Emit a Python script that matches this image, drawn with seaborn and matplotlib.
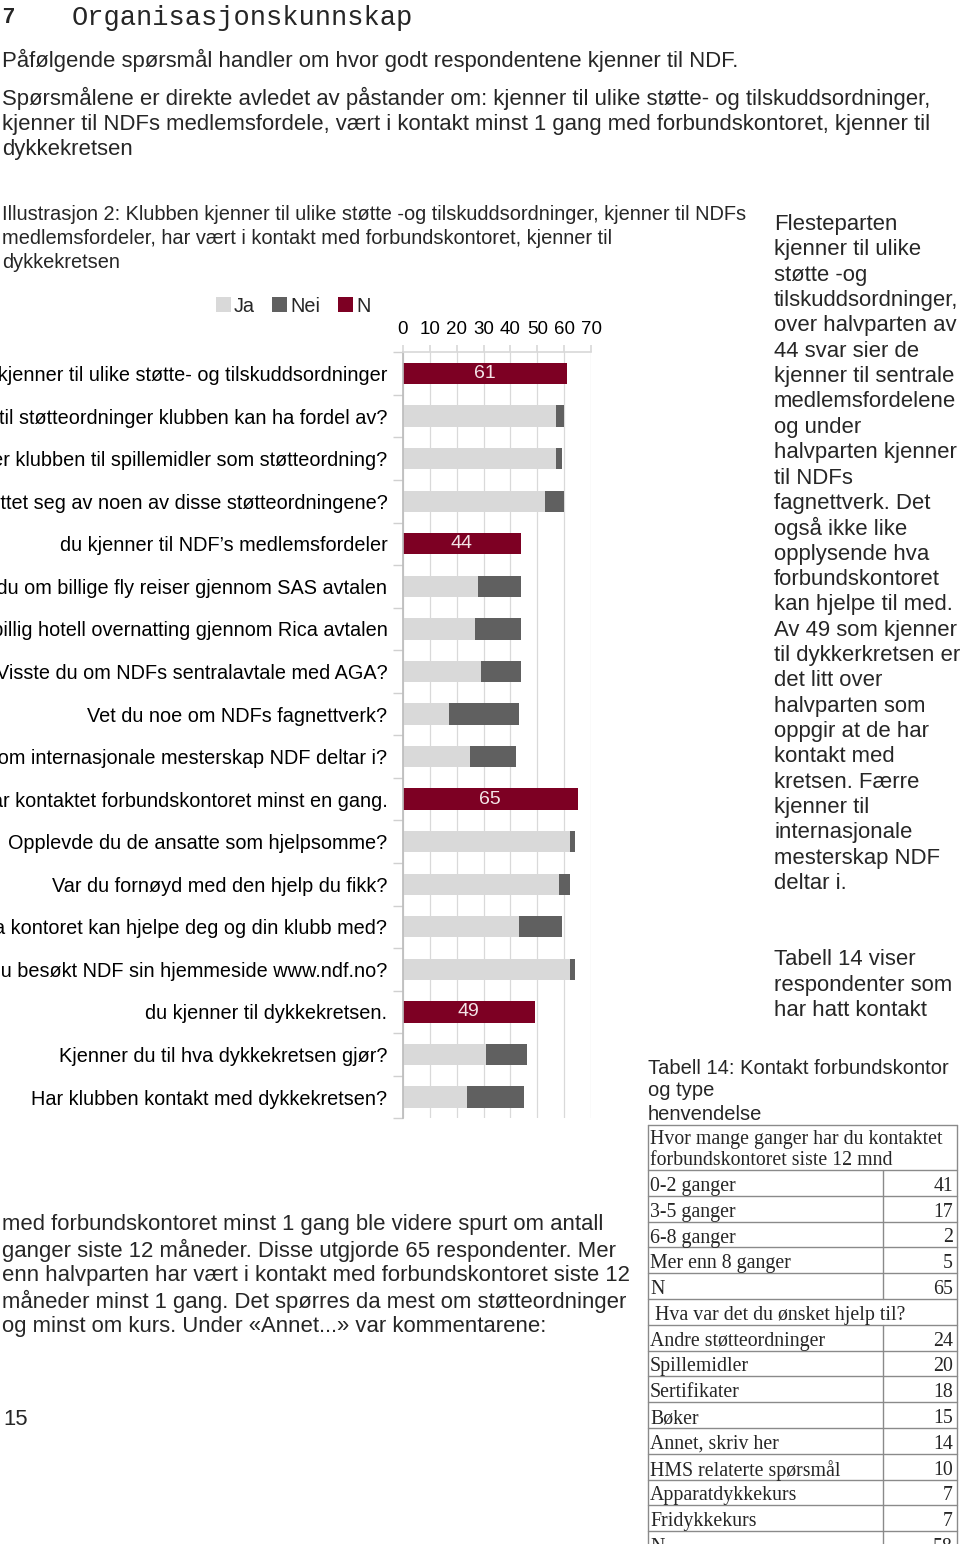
import numpy as np
import pandas as pd
import matplotlib
matplotlib.use("Agg")
import matplotlib.pyplot as plt
import seaborn as sns
from matplotlib.patches import Patch
from matplotlib.lines import Line2D

# ---------------- data ----------------
questions = [
    "Klubben kjenner til ulike støtte- og tilskuddsordninger",
    "Kjenner du til støtteordninger klubben kan ha fordel av?",
    "Kjenner klubben til spillemidler som støtteordning?",
    "Har klubben benyttet seg av noen av disse støtteordningene?",
    "du kjenner til NDF’s medlemsfordeler",
    "Visste du om billige fly reiser gjennom SAS avtalen",
    "Visste du om billig hotell overnatting gjennom Rica avtalen",
    "Visste du om NDFs sentralavtale med AGA?",
    "Vet du noe om NDFs fagnettverk?",
    "Vet du noe om internasjonale mesterskap NDF deltar i?",
    "Klubben har kontaktet forbundskontoret minst en gang.",
    "Opplevde du de ansatte som hjelpsomme?",
    "Var du fornøyd med den hjelp du fikk?",
    "Vet du hva kontoret kan hjelpe deg og din klubb med?",
    "Har du besøkt NDF sin hjemmeside www.ndf.no?",
    "du kjenner til dykkekretsen.",
    "Kjenner du til hva dykkekretsen gjør?",
    "Har klubben kontakt med dykkekretsen?",
]
ja_values = [None, 57, 57, 53, None, 28, 27, 29, 17, 25, None, 62, 58, 43, 62, None, 31, 24]
nei_values = [None, 3, 2, 7, None, 16, 17, 15, 26, 17, None, 2, 4, 16, 2, None, 15, 21]
n_values = [61, None, None, None, 44, None, None, None, None, None, 65, None, None, None, None, 49, None, None]
x_ticks = [0, 10, 20, 30, 40, 50, 60, 70]
legend_labels = ["Ja", "Nei", "N"]

table1_header = ["Hvor mange ganger har du kontaktet", "forbundskontoret siste 12 mnd"]
table1_labels = ["0-2 ganger", "3-5 ganger", "6-8 ganger", "Mer enn 8 ganger", "N"]
table1_values = [41, 17, 2, 5, 65]
table2_header = "Hva var det du ønsket hjelp til?"
table2_labels = ["Andre støtteordninger", "Spillemidler", "Sertifikater", "Bøker",
                 "Annet, skriv her", "HMS relaterte spørsmål", "Apparatdykkekurs",
                 "Fridykkekurs", "N"]
table2_values = [24, 20, 18, 15, 14, 10, 7, 7, 58]

# ---------------- style ----------------
JA = "#d9d9d9"
NEI = "#606060"
NRED = "#7d0023"
GRID = "#d9d9d9"

sns.set_theme(style="white")
plt.rcParams['font.family'] = ['Liberation Sans', 'DejaVu Sans']

W, H = 960, 1544
fig = plt.figure(figsize=(W / 100, H / 100), dpi=100)
fig.patch.set_facecolor("white")


def txt(x, y, s, size, **kw):
    ha = kw.pop("ha", "left")
    va = kw.pop("va", "center_baseline")
    fig.text(x / W, 1 - y / H, s, fontsize=size, ha=ha, va=va, **kw)


# ---------------- page text ----------------
txt(2, 15, "7", 15.5, fontweight="bold")
txt(72, 15, "Organisasjonskunnskap", 19.5, family=["Liberation Mono", "DejaVu Sans Mono"])

body = 15.9
txt(2, 58, "Påfølgende spørsmål handler om hvor godt respondentene kjenner til NDF.", body)
for y, s in zip([96, 122, 147], [
    "Spørsmålene er direkte avledet av påstander om: kjenner til ulike støtte- og tilskuddsordninger,",
    "kjenner til NDFs medlemsfordele, vært i kontakt minst 1 gang med forbundskontoret, kjenner til",
    "dykkekretsen"]):
    txt(2, y, s, body)

for y, s in zip([213, 237, 260], [
    "Illustrasjon 2: Klubben kjenner til ulike støtte -og tilskuddsordninger, kjenner til NDFs",
    "medlemsfordeler, har vært i kontakt med forbundskontoret, kjenner til",
    "dykkekretsen"]):
    txt(2, y, s, 14.4)

right_lines = [
    "Flesteparten", "kjenner til ulike", "støtte -og", "tilskuddsordninger,",
    "over halvparten av", "44 svar sier de", "kjenner til sentrale",
    "medlemsfordelene", "og under", "halvparten kjenner", "til NDFs",
    "fagnettverk. Det", "også ikke like", "opplysende hva", "forbundskontoret",
    "kan hjelpe til med.", "Av 49 som kjenner", "til dykkerkretsen er",
    "det litt over", "halvparten som", "oppgir at de har", "kontakt med",
    "kretsen. Færre", "kjenner til", "internasjonale", "mesterskap NDF",
    "deltar i.", "", "", "Tabell 14 viser", "respondenter som", "har hatt kontakt"]
for i, s in enumerate(right_lines):
    if s:
        txt(774, 222 + i * 25.35, s, body)

for i, s in enumerate([
    "med forbundskontoret minst 1 gang ble videre spurt om antall",
    "ganger siste 12 måneder. Disse utgjorde 65 respondenter. Mer",
    "enn halvparten har vært i kontakt med forbundskontoret siste 12",
    "måneder minst 1 gang. Det spørres da mest om støtteordninger",
    "og minst om kurs. Under «Annet...» var kommentarene:"]):
    txt(2, 1222 + i * 25.6, s, body)
txt(3, 1417, "15", body)

for i, s in enumerate(["Tabell 14: Kontakt forbundskontor", "og type", "henvendelse"]):
    txt(648, 1066 + i * 23, s, 14.5)

# ---------------- table ----------------
serif = ["Liberation Serif", "DejaVu Serif"]
LC = "#8a8a8a"
TS = 14.3
x0, x1, xd = 648, 957, 883
def hline(y):
    fig.add_artist(Line2D([x0 / W, x1 / W], [1 - y / H, 1 - y / H], color=LC, lw=1))
def vline(x, ya, yb):
    fig.add_artist(Line2D([x / W, x / W], [1 - ya / H, 1 - yb / H], color=LC, lw=1))

top = 1125
hline(top)
txt(650, 1137, table1_header[0], TS, family=serif)
txt(650, 1158, table1_header[1], TS, family=serif)
y = 1170
hline(y)
rh = 25.8
for lab, val in zip(table1_labels, table1_values):
    txt(650, y + rh / 2 + 1, lab, TS, family=serif)
    txt(953, y + rh / 2 + 1, str(val), TS, family=serif, ha="right")
    vline(xd, y, y + rh)
    y += rh
    hline(y)
txt(655, y + rh / 2 + 1, table2_header, TS, family=serif)
y += rh
hline(y)
for lab, val in zip(table2_labels, table2_values):
    txt(650, y + rh / 2 + 1, lab, TS, family=serif)
    txt(953, y + rh / 2 + 1, str(val), TS, family=serif, ha="right")
    vline(xd, y, y + rh)
    y += rh
    hline(y)
vline(x0, top, H + 5)
vline(x1, top, H + 5)

# ---------------- chart ----------------
left, right = 402.7, 591.3
ytop, ybot = 352.3, 1118.3
ax = fig.add_axes([left / W, 1 - ybot / H, (right - left) / W, (ybot - ytop) / H])

df = pd.DataFrame({"q": questions, "ja": ja_values, "nei": nei_values, "n": n_values})
df[["ja", "nei", "n"]] = df[["ja", "nei", "n"]].astype(float)
df["total"] = df["ja"] + df["nei"]

common = dict(y="q", order=questions, orient="h", width=0.5, saturation=1,
              linewidth=0, ax=ax, errorbar=None)
sns.barplot(data=df.dropna(subset=["total"]), x="total", color=NEI, **common)
sns.barplot(data=df.dropna(subset=["ja"]), x="ja", color=JA, **common)
sns.barplot(data=df.dropna(subset=["n"]), x="n", color=NRED, **common)

ax.bar_label(ax.containers[-1], fmt="%d", label_type="center",
             color="#f4e4e7", fontsize=14)

ax.set_xlim(0, 70)
ax.set_ylim(len(questions) - 0.5, -0.5)
ax.set_xlabel("")
ax.set_ylabel("")
ax.xaxis.tick_top()
ax.set_xticks(x_ticks)
ax.set_xticklabels([str(t) for t in x_ticks])
ax.tick_params(axis="x", which="major", top=True, bottom=False, length=5,
               color=GRID, pad=5, labelsize=13.5, labelcolor="black")
ax.set_yticks(np.arange(-0.5, len(questions), 1), minor=True)
ax.tick_params(axis="y", which="major", left=False, length=0, pad=11,
               labelsize=14.3, labelcolor="black")
ax.tick_params(axis="y", which="minor", left=True, length=7, color="#d0d0d0", width=1)
ax.grid(axis="x", color=GRID, lw=0.9)
ax.grid(axis="y", visible=False)
ax.set_axisbelow(True)
for side in ["right", "bottom"]:
    ax.spines[side].set_visible(False)
ax.spines["left"].set_color("#bdbdbd")
ax.spines["top"].set_color(GRID)
ax.set_facecolor("white")

handles = [Patch(facecolor=c, edgecolor="none") for c in (JA, NEI, NRED)]
fig.legend(handles, legend_labels, loc="center", ncol=3, frameon=False,
           bbox_to_anchor=(293 / W, 1 - 306 / H), bbox_transform=fig.transFigure,
           fontsize=14.3, handlelength=0.75, handleheight=0.75,
           handletextpad=0.15, columnspacing=0.9)

fig.savefig("out.png", dpi=100)
